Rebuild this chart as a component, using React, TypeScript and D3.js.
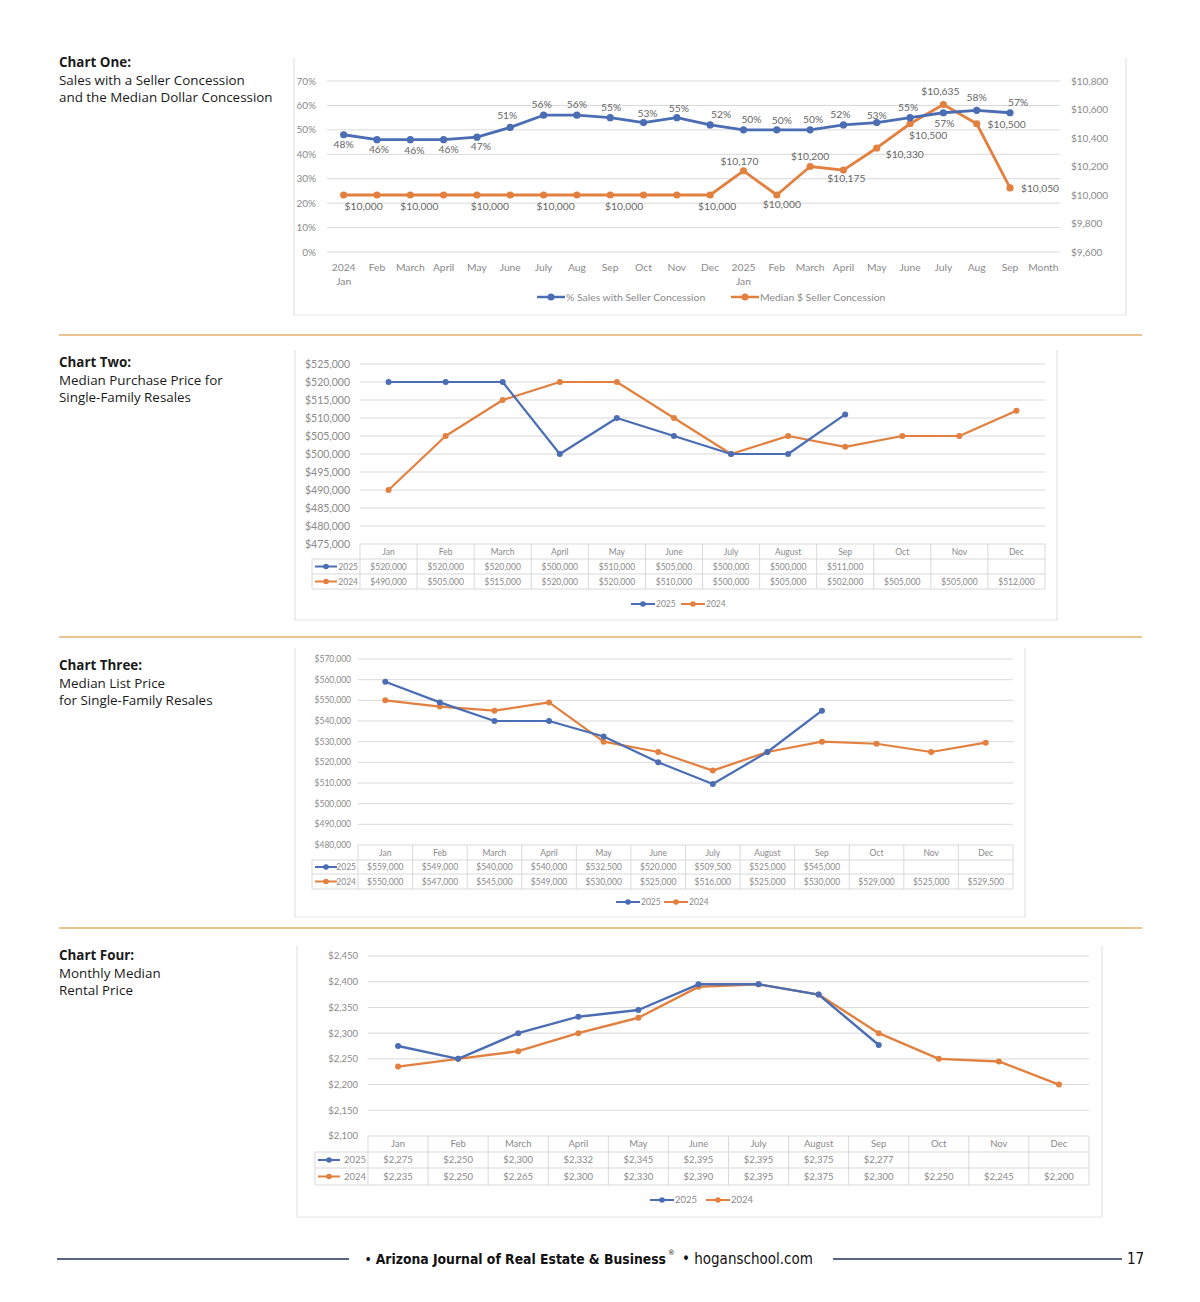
import React from "react";
import * as d3 from "d3";

// ---------- data ----------
const c1Months = ["2024|Jan", "Feb", "March", "April", "May", "June", "July", "Aug", "Sep", "Oct", "Nov", "Dec",
  "2025|Jan", "Feb", "March", "April", "May", "June", "July", "Aug", "Sep", "Month"];
const pctConcession = [48, 46, 46, 46, 47, 51, 56, 56, 55, 53, 55, 52, 50, 50, 50, 52, 53, 55, 57, 58, 57];
const medianConcession = [10000, 10000, 10000, 10000, 10000, 10000, 10000, 10000, 10000, 10000, 10000, 10000,
  10170, 10000, 10200, 10175, 10330, 10500, 10635, 10500, 10050];
const pctTicks = [0, 10, 20, 30, 40, 50, 60, 70];
const usdTicks = [9600, 9800, 10000, 10200, 10400, 10600, 10800];

const months = ["Jan", "Feb", "March", "April", "May", "June", "July", "August", "Sep", "Oct", "Nov", "Dec"];

const purchase2025 = [520000, 520000, 520000, 500000, 510000, 505000, 500000, 500000, 511000];
const purchase2024 = [490000, 505000, 515000, 520000, 520000, 510000, 500000, 505000, 502000, 505000, 505000, 512000];

const list2025 = [559000, 549000, 540000, 540000, 532500, 520000, 509500, 525000, 545000];
const list2024 = [550000, 547000, 545000, 549000, 530000, 525000, 516000, 525000, 530000, 529000, 525000, 529500];

const rent2025 = [2275, 2250, 2300, 2332, 2345, 2395, 2395, 2375, 2277];
const rent2024 = [2235, 2250, 2265, 2300, 2330, 2390, 2395, 2375, 2300, 2250, 2245, 2200];

// label placement (dx, dy from the point), null = no label
const pctLabelShift: ([number, number] | null)[] = [
  [0, 13], [2, 13], [4, 14], [5, 13], [4, 13], [-3, -8], [-2, -7], [0, -7], [1, -7], [4, -6], [2, -6],
  [11, -7], [8, -7], [5, -6], [3, -7], [-3, -7], [0, -4], [-2, -7], [1, 14], [0, -9], [8, -7],
];
const usdLabelShift: ([number, number] | null)[] = [
  [20, 15], null, [9, 15], null, [13, 15], null, [12, 15], null, [14, 15], null, null, [7, 15],
  [-4, -6], [5, 13], [0, -7], [3, 12], [28, 10], [18, 15], [-3, -10], [30, 4], [30, 4],
];

const BLUE = "#4a6db3";
const ORANGE = "#e28040";
const GRID = "#d9d9d9";
const AXIS_TXT = "#8a8a8a";
const LABEL_TXT = "#666";
const FONT = "Lato, 'Open Sans', sans-serif";
const TITLE_FONT = "'Open Sans', Lato, sans-serif";
const FOOT_FONT = "'Liberation Sans Narrow', 'DejaVu Sans Condensed', sans-serif";

const fmtUsd = d3.format("$,");
const fmtPct = (v: number) => `${v}%`;

// ---------- helpers ----------
const Frame = ({ x0, x1, y0, y1 }: { x0: number; x1: number; y0: number; y1: number }) => (
  <path d={`M${x0},${y0}V${y1}H${x1}V${y0}`} fill="none" stroke="#e3e3e3" strokeWidth={1.2} />
);

const LegendKey = ({ x, y, color, w = 28, r = 3.5, sw = 2.5 }: any) => (
  <g>
    <line x1={x} x2={x + w} y1={y} y2={y} stroke={color} strokeWidth={sw} />
    <circle cx={x + w / 2} cy={y} r={r} fill={color} />
  </g>
);

const Title = ({ y, lines }: { y: number; lines: string[] }) => (
  <text x={59} y={y} fontFamily={TITLE_FONT} fontSize={13.4} fill="#1a1a1a">
    {lines.map((l, i) => (
      <tspan key={i} x={59} dy={i === 0 ? 0 : 17.6} fontWeight={i === 0 ? 700 : 400}>{l}</tspan>
    ))}
  </text>
);

// ---------- chart one ----------
const ChartOne = () => {
  const x = d3.scalePoint<number>().domain(d3.range(c1Months.length)).range([327, 1060]).padding(0.5);
  const yL = d3.scaleLinear().domain([0, 70]).range([252, 81]);
  const yR = d3.scaleLinear().domain([9600, 10800]).range([252, 81]);
  const pctLine = d3.line<number>().x((_, i) => x(i)!).y((d) => yL(d));
  const usdLine = d3.line<number>().x((_, i) => x(i)!).y((d) => yR(d));

  return (
    <g fontFamily={FONT}>
      <Frame x0={294} x1={1126} y0={58} y1={315} />
      {pctTicks.map((t) => (
        <g key={t}>
          <line x1={327} x2={1060} y1={yL(t)} y2={yL(t)} stroke={GRID} strokeWidth={1} />
          <text x={316} y={yL(t) + 3.5} textAnchor="end" fontSize={10} fill={AXIS_TXT}>{fmtPct(t)}</text>
        </g>
      ))}
      {usdTicks.map((t) => (
        <text key={t} x={1071} y={yR(t) + 3.5} fontSize={10} fill={AXIS_TXT}>{fmtUsd(t)}</text>
      ))}
      {c1Months.map((m, i) => (
        <text key={i} x={x(i)} y={271} textAnchor="middle" fontSize={10.3} fill={AXIS_TXT}>
          {m.split("|").map((p, j) => (
            <tspan key={j} x={x(i)} dy={j === 0 ? 0 : 14}>{p}</tspan>
          ))}
        </text>
      ))}
      <path d={usdLine(medianConcession)!} fill="none" stroke={ORANGE} strokeWidth={2.8} strokeLinejoin="round" />
      <path d={pctLine(pctConcession)!} fill="none" stroke={BLUE} strokeWidth={2.8} strokeLinejoin="round" />
      {medianConcession.map((v, i) => (
        <circle key={"o" + i} cx={x(i)} cy={yR(v)} r={3.6} fill={ORANGE} />
      ))}
      {pctConcession.map((v, i) => (
        <circle key={"b" + i} cx={x(i)} cy={yL(v)} r={3.6} fill={BLUE} />
      ))}
      {pctConcession.map((v, i) => {
        const s = pctLabelShift[i];
        if (!s) return null;
        return (
          <text key={"pl" + i} x={x(i)! + s[0]} y={yL(v) + s[1]} textAnchor="middle" fontSize={10.3} fill={LABEL_TXT}>
            {fmtPct(v)}
          </text>
        );
      })}
      {medianConcession.map((v, i) => {
        const s = usdLabelShift[i];
        if (!s) return null;
        return (
          <text key={"ul" + i} x={x(i)! + s[0]} y={yR(v) + s[1]} textAnchor="middle" fontSize={10.3} fill={LABEL_TXT}>
            {fmtUsd(v)}
          </text>
        );
      })}
      <LegendKey x={537} y={297} color={BLUE} />
      <text x={566} y={300.5} fontSize={10.4} fill={AXIS_TXT}>% Sales with Seller Concession</text>
      <LegendKey x={731} y={297} color={ORANGE} />
      <text x={760} y={300.5} fontSize={10.4} fill={AXIS_TXT}>Median $ Seller Concession</text>
    </g>
  );
};

// ---------- table charts ----------
interface TableCfg {
  frame: [number, number, number, number];
  x0: number;
  x1: number;
  yTop: number;
  yBottom: number;
  domain: [number, number];
  step: number;
  tickX: number;
  tickFont: number;
  rowH: [number, number, number];
  keyX: number;
  tableFont: number;
  legendY: number;
  legendX: number;
  legendGap: number;
  s2025: number[];
  s2024: number[];
  sw: number;
}

const TableChart = ({ c }: { c: TableCfg }) => {
  const x = d3.scaleBand().domain(months).range([c.x0, c.x1]);
  const cx = (i: number) => x(months[i])! + x.bandwidth() / 2;
  const y = d3.scaleLinear().domain(c.domain).range([c.yBottom, c.yTop]);
  const ticks = d3.range(c.domain[0], c.domain[1] + c.step / 2, c.step);
  const line = d3.line<number>().x((_, i) => cx(i)).y((d) => y(d));
  const r1 = c.yBottom + c.rowH[0];
  const r2 = r1 + c.rowH[1];
  const r3 = r2 + c.rowH[2];
  const rows = [
    { name: "2025", data: c.s2025, color: BLUE, top: r1, bot: r2 },
    { name: "2024", data: c.s2024, color: ORANGE, top: r2, bot: r3 },
  ];
  const kw = 22;

  return (
    <g fontFamily={FONT}>
      <Frame x0={c.frame[0]} x1={c.frame[1]} y0={c.frame[2]} y1={c.frame[3]} />
      {ticks.map((t) => (
        <g key={t}>
          <line x1={c.x0} x2={c.x1} y1={y(t)} y2={y(t)} stroke={GRID} strokeWidth={1} />
          <text x={c.tickX} y={y(t) + c.tickFont * 0.36} textAnchor="end" fontSize={c.tickFont} fill={AXIS_TXT}>
            {fmtUsd(t)}
          </text>
        </g>
      ))}
      {/* table grid */}
      {[r1, r2, r3].map((ry) => (
        <line key={ry} x1={c.keyX} x2={c.x1} y1={ry} y2={ry} stroke={GRID} strokeWidth={1} />
      ))}
      <line x1={c.keyX} x2={c.keyX} y1={r1} y2={r3} stroke={GRID} strokeWidth={1} />
      {months.map((m) => (
        <line key={m} x1={x(m)} x2={x(m)} y1={c.yBottom} y2={r3} stroke={GRID} strokeWidth={1} />
      ))}
      <line x1={c.x1} x2={c.x1} y1={c.yBottom} y2={r3} stroke={GRID} strokeWidth={1} />
      {months.map((m, i) => (
        <text key={m} x={cx(i)} y={(c.yBottom + r1) / 2 + c.tableFont * 0.36} textAnchor="middle"
          fontSize={c.tableFont} fill={AXIS_TXT}>{m}</text>
      ))}
      {rows.map((row) => (
        <g key={row.name}>
          <LegendKey x={c.keyX + 3} y={(row.top + row.bot) / 2} color={row.color} w={kw} r={2.8} sw={2} />
          <text x={c.x0 - 2} y={(row.top + row.bot) / 2 + c.tableFont * 0.36} textAnchor="end"
            fontSize={c.tableFont} fill={AXIS_TXT}>{row.name}</text>
          {row.data.map((v, i) => (
            <text key={i} x={cx(i)} y={(row.top + row.bot) / 2 + c.tableFont * 0.36} textAnchor="middle"
              fontSize={c.tableFont} fill={AXIS_TXT}>{fmtUsd(v)}</text>
          ))}
        </g>
      ))}
      {/* series */}
      {[rows[1], rows[0]].map((row) => (
        <g key={row.name}>
          <path d={line(row.data)!} fill="none" stroke={row.color} strokeWidth={c.sw} strokeLinejoin="round" />
          {row.data.map((v, i) => (
            <circle key={i} cx={cx(i)} cy={y(v)} r={3} fill={row.color} />
          ))}
        </g>
      ))}
      {/* legend */}
      {rows.map((row, k) => (
        <g key={row.name}>
          <LegendKey x={c.legendX + k * c.legendGap} y={c.legendY} color={row.color} w={24} r={2.8} sw={2} />
          <text x={c.legendX + k * c.legendGap + 25} y={c.legendY + c.tableFont * 0.36}
            fontSize={c.tableFont} fill={AXIS_TXT}>{row.name}</text>
        </g>
      ))}
    </g>
  );
};

const chartTwo: TableCfg = {
  frame: [295, 1057, 350, 620], x0: 360, x1: 1045, yTop: 364, yBottom: 544,
  domain: [475000, 525000], step: 5000, tickX: 350, tickFont: 10.5, rowH: [15, 15, 15],
  keyX: 312, tableFont: 8.5, legendY: 604, legendX: 631, legendGap: 50,
  s2025: purchase2025, s2024: purchase2024, sw: 2.2,
};
const chartThree: TableCfg = {
  frame: [295, 1025, 648, 917], x0: 358, x1: 1013, yTop: 659, yBottom: 845,
  domain: [480000, 570000], step: 10000, tickX: 351, tickFont: 8.5, rowH: [15, 14, 15],
  keyX: 312, tableFont: 8.5, legendY: 902, legendX: 616, legendGap: 48,
  s2025: list2025, s2024: list2024, sw: 2.2,
};
const chartFour: TableCfg = {
  frame: [297, 1102, 946, 1217], x0: 368, x1: 1089, yTop: 956, yBottom: 1136,
  domain: [2100, 2450], step: 50, tickX: 358, tickFont: 9.5, rowH: [16, 16, 17],
  keyX: 315, tableFont: 9.5, legendY: 1200, legendX: 650, legendGap: 56,
  s2025: rent2025, s2024: rent2024, sw: 2.4,
};

// ---------- page ----------
export default function App() {
  const NAVY = "#22305a";
  const GOLD = "#e3b06a";
  return (
    <div style={{ position: "absolute", left: 0, top: 0, background: "#fff" }}>
      <svg width={1200} height={1302} viewBox="0 0 1200 1302">
        <rect width={1200} height={1302} fill="#fff" />
        <Title y={67} lines={["Chart One:", "Sales with a Seller Concession", "and the Median Dollar Concession"]} />
        <Title y={367} lines={["Chart Two:", "Median Purchase Price for", "Single-Family Resales"]} />
        <Title y={670} lines={["Chart Three:", "Median List Price", "for Single-Family Resales"]} />
        <Title y={960} lines={["Chart Four:", "Monthly Median", "Rental Price"]} />

        {[335, 637, 928].map((sy) => (
          <line key={sy} x1={59} x2={1142} y1={sy} y2={sy} stroke={GOLD} strokeWidth={1.3} />
        ))}

        <ChartOne />
        <TableChart c={chartTwo} />
        <TableChart c={chartThree} />
        <TableChart c={chartFour} />

        {/* footer */}
        <line x1={57} x2={349} y1={1259} y2={1259} stroke={NAVY} strokeWidth={1.3} />
        <line x1={833} x2={1122} y1={1259} y2={1259} stroke={NAVY} strokeWidth={1.3} />
        <text x={666} y={1264} fontSize={13.8} fill="#111" fontFamily={FOOT_FONT} textAnchor="end">
          <tspan>• </tspan>
          <tspan fontWeight={700}>Arizona Journal of Real Estate &amp; Business</tspan>
        </text>
        <text x={668} y={1255} fontSize={7.5} fill="#111" fontFamily={FOOT_FONT}>®</text>
        <text x={682} y={1264} fontSize={15} fill="#111" fontFamily={FOOT_FONT}>• hoganschool.com</text>
        <text x={1127} y={1264} fontSize={15} fill="#111" fontFamily={FOOT_FONT}>17</text>
      </svg>
    </div>
  );
}
